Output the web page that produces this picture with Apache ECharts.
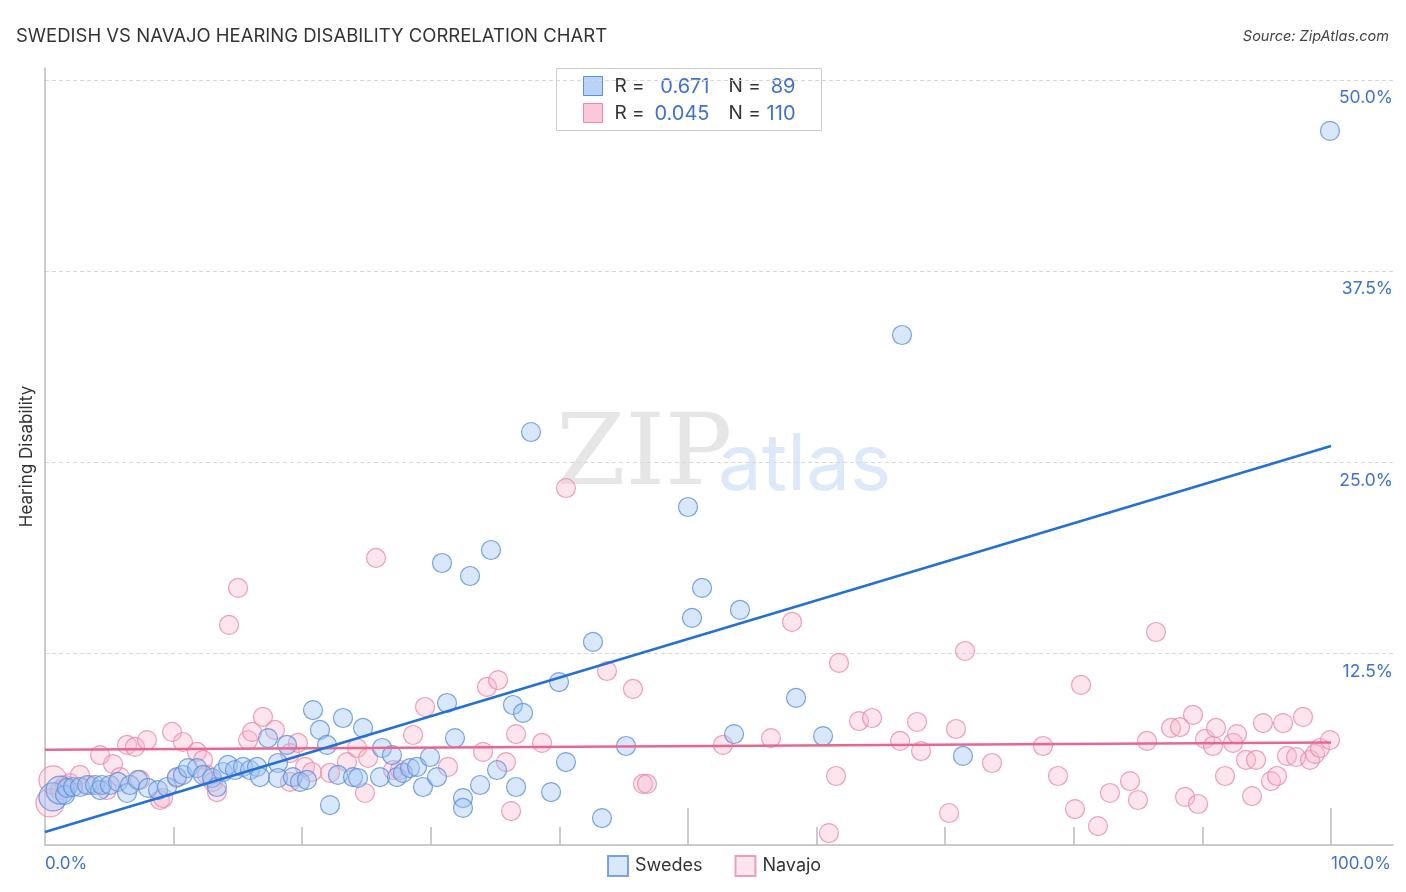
<!DOCTYPE html>
<html>
<head>
<meta charset="utf-8">
<script src="https://cdn.jsdelivr.net/npm/echarts@6/dist/echarts.min.js"></script>
<style>
html,body{margin:0;padding:0;background:#fff;}
#chart{width:1406px;height:892px;}
</style>
</head>
<body>
<div id="chart"></div>
<script>
// Swedes: [x %, y %]
const swedes = [
[0.62,3.14],[1.17,3.59],[1.56,3.27],[1.71,3.73],[2.18,3.79],[2.72,3.79],[3.27,3.92],[3.89,3.92],[4.28,3.59],[4.43,3.92],
[5.05,3.92],[5.68,4.12],[6.38,3.40],[6.61,3.92],[7.23,4.25],[8.01,3.73],[8.79,3.59],[9.49,3.79],[10.26,4.44],[10.73,4.58],
[11.12,5.03],[11.82,5.03],[12.29,4.58],[12.99,4.38],[13.37,3.79],[13.84,4.77],[14.23,5.23],[14.77,4.90],[15.40,5.10],[15.94,4.90],
[16.49,5.10],[16.72,4.44],[17.34,6.99],[18.12,5.36],[18.12,4.38],[18.82,6.54],[19.28,4.44],[19.83,4.12],[20.37,4.25],[20.84,8.82],
[21.38,7.52],[21.93,6.54],[22.16,2.61],[22.78,4.58],[23.17,8.30],[23.95,4.44],[24.34,4.38],[24.73,7.65],[26.05,4.44],[26.21,6.34],
[26.98,5.88],[27.37,4.44],[27.84,4.71],[28.38,5.03],[28.93,5.10],[29.39,3.79],[29.94,5.75],[30.48,4.44],[30.87,18.43],[31.26,9.28],
[31.88,6.99],[32.50,3.07],[32.50,2.42],[33.05,17.58],[33.83,3.92],[34.68,19.28],[35.15,4.90],[36.39,9.15],[36.63,3.79],[37.17,8.63],
[37.79,26.99],[39.35,3.46],[39.97,10.65],[40.51,5.42],[42.61,13.27],[43.31,1.76],[45.18,6.47],[50.00,22.09],[50.31,14.84],[51.09,16.80],
[53.58,7.25],[54.04,15.36],[58.40,9.61],[60.50,7.12],[66.64,33.33],[71.38,5.82],[99.92,46.67]
];
// Navajo: [x %, y %]
const navajo = [
[0.39,2.75],[0.62,4.25],[1.17,3.59],[1.56,3.92],[1.94,4.05],[2.72,4.58],[3.50,3.92],[4.28,5.88],[4.82,3.59],[5.29,5.29],
[5.83,4.44],[6.38,6.54],[7.00,6.41],[7.39,4.25],[7.93,6.86],[8.94,2.94],[9.18,3.07],[9.88,7.39],[10.26,4.38],[10.73,6.73],
[11.82,6.08],[12.29,5.56],[12.60,4.58],[13.06,4.12],[13.37,3.46],[14.31,14.38],[15.01,16.80],[15.79,6.86],[16.10,7.39],[16.95,8.37],
[17.88,7.52],[19.05,6.01],[19.05,4.12],[19.67,6.67],[20.22,5.10],[20.76,4.77],[22.16,4.71],[23.48,5.42],[24.26,6.34],[24.88,3.40],
[25.12,5.69],[25.74,18.76],[27.06,4.90],[27.60,4.90],[28.62,7.19],[29.55,9.02],[31.34,5.10],[34.06,6.08],[34.37,10.33],[35.23,10.78],
[35.85,5.42],[36.24,2.22],[36.63,7.25],[38.65,6.67],[40.51,23.33],[43.70,11.37],[45.72,10.20],[46.50,3.99],[46.81,3.99],[52.72,6.54],
[56.45,6.99],[58.09,14.58],[60.96,0.78],[61.51,4.51],[61.74,11.90],[63.30,8.10],[64.31,8.30],[66.49,6.80],[67.81,8.04],[68.12,6.14],
[70.30,2.09],[70.84,7.58],[71.54,12.68],[73.64,5.36],[77.60,6.47],[78.77,4.51],[80.09,2.35],[80.56,10.46],[81.88,1.24],[82.81,3.40],
[84.37,4.18],[84.99,2.94],[85.69,6.80],[86.39,13.92],[87.56,7.65],[88.26,7.71],[88.65,3.14],[89.27,8.50],[89.66,2.68],[90.20,6.93],
[90.82,6.47],[91.06,7.65],[91.76,4.51],[92.38,6.67],[92.69,7.25],[93.39,5.56],[93.86,3.20],[94.17,5.56],[94.71,7.97],[95.33,4.18],
[95.80,4.51],[96.27,7.97],[96.58,5.82],[97.28,5.75],[97.82,8.37],[98.37,5.56],[98.76,5.95],[99.14,6.34],[99.92,6.86]
];
const swedesTrend = [[0,0.85],[100,26.08]];
const navajoTrend = [[0,6.22],[100,6.70]];
const xLabelValues = [0,100];
const xMinorTicks = [10,20,30,40,60,70,80,90];
const xMajorTicks = [50,100];
const yLabelValues = [12.5,25,37.5,50];
const seriesNames = ['Swedes','Navajo'];
const statsR = ['0.671','0.045'];
const statsN = ['89','110'];

const BLUE_FILL = 'rgba(160,196,242,0.5)';
const BLUE_LINE = '#5a8fdc';
const PINK_FILL = 'rgba(248,182,204,0.45)';
const PINK_LINE = '#e98aa8';
const FONT = 'Inter, "Open Sans", sans-serif';

const chart = echarts.init(document.getElementById('chart'), null, {renderer:'canvas'});

function sizeFn(v, p){ return p.dataIndex < 2 ? 28 : 19; }

const option = {
  animation:false,
  backgroundColor:'#fff',
  title:[
    {text:'SWEDISH VS NAVAJO HEARING DISABILITY CORRELATION CHART', left:11, top:22,
     textStyle:{fontFamily:FONT,fontSize:18.5,fontWeight:'normal',color:'#333'}},
    {text:'Source: ZipAtlas.com', right:12, top:24,
     textStyle:{fontFamily:FONT,fontSize:14.5,fontWeight:'normal',fontStyle:'italic',color:'#444'}}
  ],
  grid:{left:45,right:13,top:68,bottom:47,containLabel:false},
  legend:{
    data:seriesNames, left:602, top:850, itemWidth:20, itemHeight:20, itemGap:32, icon:'rect',
    textStyle:{fontFamily:FONT,fontSize:18,color:'#333',padding:[0,0,0,2]}
  },
  xAxis:[
    {type:'value',min:0,max:104.82,position:'bottom',
     axisLine:{show:true,lineStyle:{color:'#bbb',width:1.5}},
     axisTick:{show:true,inside:true,length:18,customValues:xMinorTicks,lineStyle:{color:'#bbb',width:1.5}},
     axisLabel:{show:true,customValues:xLabelValues,align:'left',margin:10,
       formatter:v=>v.toFixed(1)+'%',color:'#3f72cf',fontFamily:FONT,fontSize:17},
     splitLine:{show:false}},
    {type:'value',min:0,max:104.82,position:'top',offset:-777,
     axisLine:{show:false},
     axisTick:{show:true,inside:false,length:37,customValues:xMajorTicks,lineStyle:{color:'#bbb',width:1.5}},
     axisLabel:{show:false},splitLine:{show:false}}
  ],
  yAxis:[
    {type:'value',min:0,max:50.78,position:'left',
     name:'Hearing Disability',nameLocation:'middle',nameGap:10,nameRotate:90,
     nameTextStyle:{fontFamily:FONT,fontSize:17,color:'#333'},
     axisLine:{show:true,lineStyle:{color:'#bbb',width:1.5}},
     axisTick:{show:false},axisLabel:{show:false},splitLine:{show:false}},
    {type:'value',min:0,max:50.78,position:'right',
     axisLine:{show:false},
     axisTick:{show:false,customValues:yLabelValues},
     axisLabel:{show:true,inside:true,customValues:yLabelValues,margin:0,verticalAlign:'top',padding:[9,0,0,0],
       formatter:v=>v.toFixed(1)+'%',color:'#3f72cf',fontFamily:FONT,fontSize:17.5},
     splitLine:{show:true,lineStyle:{color:'#d8d8d8',type:[4,3],width:1}}}
  ],
  graphic:[
    {type:'text',left:556,top:408,z:0,silent:true,
     style:{text:'ZIP',font:'normal 100px "DejaVu Serif", "Liberation Serif", serif',fill:'rgba(200,200,200,0.45)'}},
    {type:'text',left:718,top:428,z:0,silent:true,
     style:{text:'atlas',font:'normal 78px '+FONT,fill:'rgba(170,200,238,0.4)'}},
    {type:'group',left:556,top:68,z:100,children:[
      {type:'rect',shape:{x:0,y:0,width:265,height:62},style:{fill:'#fff',stroke:'#ccc',lineWidth:1}},
      {type:'rect',shape:{x:27,y:8,width:19,height:19},style:{fill:'rgba(160,196,242,0.75)',stroke:BLUE_LINE,lineWidth:1}},
      {type:'rect',shape:{x:27,y:35,width:19,height:19},style:{fill:'rgba(248,182,204,0.75)',stroke:PINK_LINE,lineWidth:1}},
      {type:'text',x:58,y:18,style:{text:'R = ',font:'19px '+FONT,fill:'#333',verticalAlign:'middle'}},
      {type:'text',x:153,y:18,style:{text:statsR[0],font:'20px '+FONT,fill:'#3f72cf',align:'right',verticalAlign:'middle'}},
      {type:'text',x:172,y:18,style:{text:'N = ',font:'19px '+FONT,fill:'#333',verticalAlign:'middle'}},
      {type:'text',x:239,y:18,style:{text:statsN[0],font:'20px '+FONT,fill:'#3f72cf',align:'right',verticalAlign:'middle'}},
      {type:'text',x:58,y:45,style:{text:'R = ',font:'19px '+FONT,fill:'#333',verticalAlign:'middle'}},
      {type:'text',x:153,y:45,style:{text:statsR[1],font:'20px '+FONT,fill:'#3f72cf',align:'right',verticalAlign:'middle'}},
      {type:'text',x:172,y:45,style:{text:'N = ',font:'19px '+FONT,fill:'#333',verticalAlign:'middle'}},
      {type:'text',x:239,y:45,style:{text:statsN[1],font:'20px '+FONT,fill:'#3f72cf',align:'right',verticalAlign:'middle'}}
    ]}
  ],
  series:[
    {name:seriesNames[0],type:'scatter',data:swedes,symbolSize:sizeFn,z:3,
     itemStyle:{color:BLUE_FILL,borderColor:BLUE_LINE,borderWidth:1.2}},
    {name:seriesNames[1],type:'scatter',data:navajo,symbolSize:sizeFn,z:2,
     itemStyle:{color:PINK_FILL,borderColor:PINK_LINE,borderWidth:1.2}},
    {name:'Swedes trend',type:'line',data:swedesTrend,showSymbol:false,symbol:'none',z:5,silent:true,
     lineStyle:{color:'#2370d8',width:2.5},itemStyle:{color:'#2370d8'}},
    {name:'Navajo trend',type:'line',data:navajoTrend,showSymbol:false,symbol:'none',z:4,silent:true,
     lineStyle:{color:'#e8678f',width:2.5},itemStyle:{color:'#e8678f'}}
  ]
};
chart.setOption(option);
</script>
</body>
</html>
